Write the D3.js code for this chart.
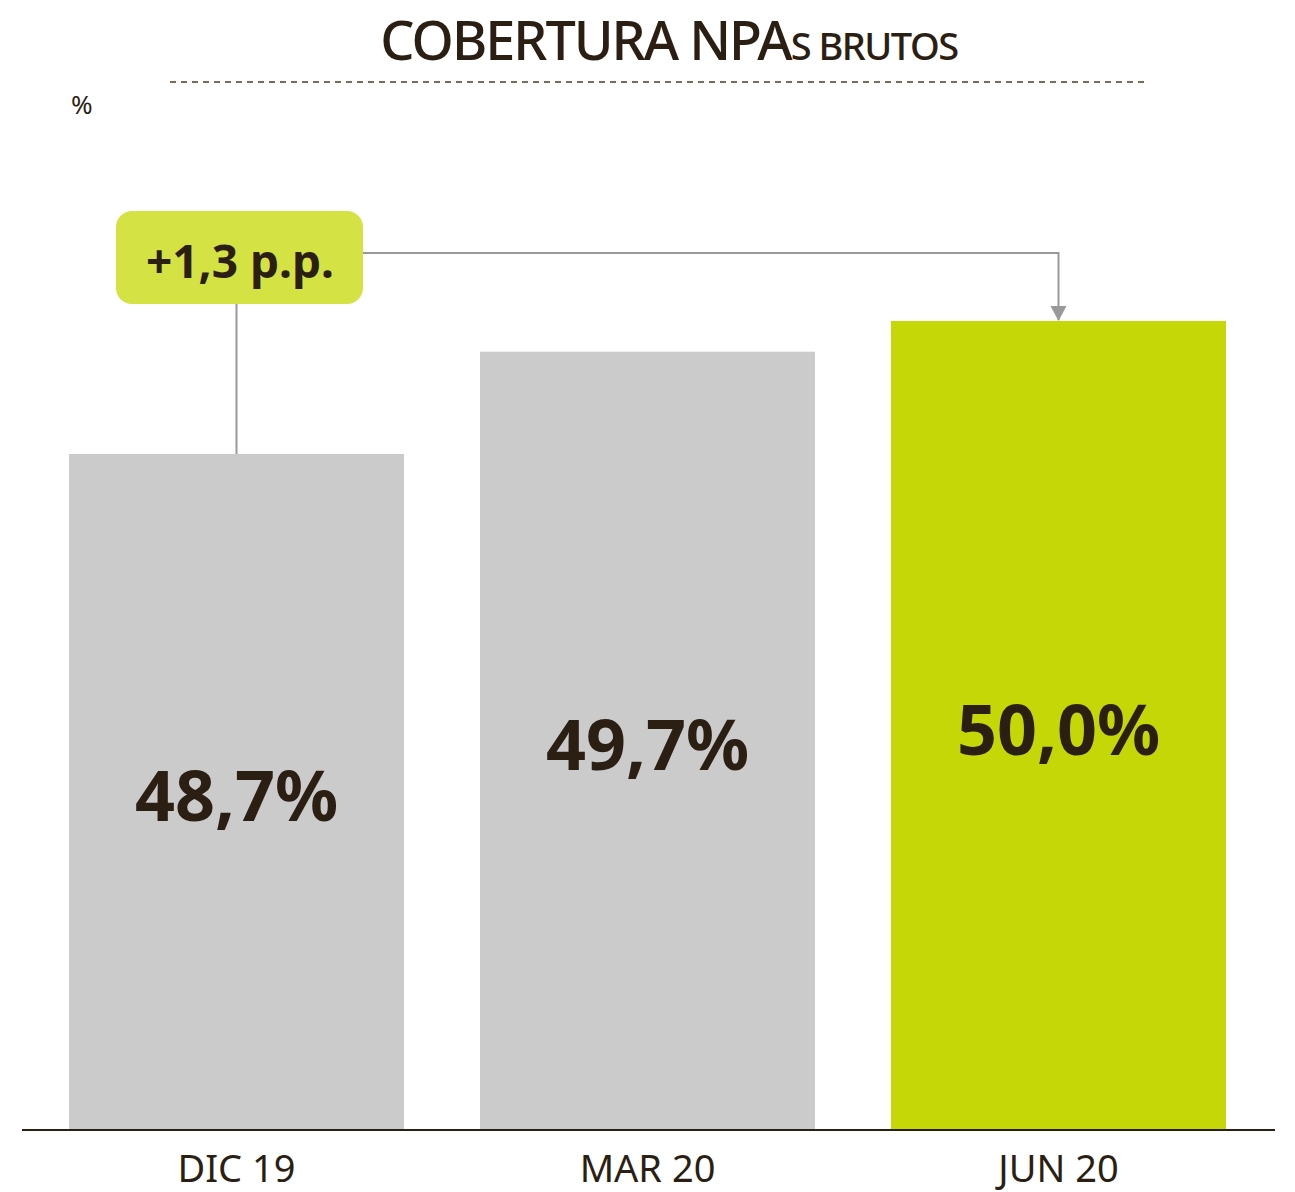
<!DOCTYPE html>
<html>
<head>
<meta charset="utf-8">
<script src="https://cdn.jsdelivr.net/npm/d3@7"></script>
<style>
  body { margin: 0; background: #fff; }
  svg text { font-family: "Noto Sans", "Open Sans", sans-serif; fill: #2b1e12; }
</style>
</head>
<body>
<div id="chart"></div>
<script>
const categories = ['DIC 19', 'MAR 20', 'JUN 20'];
const values = [48.7, 49.7, 50.0];
const valueLabels = ['48,7%', '49,7%', '50,0%'];
const barColors = ['#cbcbcb', '#cbcbcb', '#c5d706'];
const deltaLabel = '+1,3 p.p.';

(function(){
    const width = 1295, height = 1192;
    const baseY = 1129;
    const svg = d3.select('#chart').append('svg').attr('width', width).attr('height', height);

    const x = d3.scaleBand().domain(categories).range([31, 1264]).paddingInner(0.185).paddingOuter(0.0925);
    // truncated value axis, as in the original
    const y = d3.scaleLinear().domain([42.1, 50.0]).range([baseY, 321]);

    // title
    const title = svg.append('text').attr('x', 669).attr('y', 60).attr('text-anchor', 'middle');
    title.append('tspan').attr('font-size', 54).attr('font-weight', 500).attr('letter-spacing', -2).text('COBERTURA NPA');
    title.append('tspan').attr('font-size', 38).attr('font-weight', 500).attr('letter-spacing', -1.5).text('S BRUTOS');

    svg.append('line').attr('x1', 170).attr('x2', 1146).attr('y1', 82).attr('y2', 82)
        .attr('stroke', '#7d6c5a').attr('stroke-width', 2).attr('stroke-dasharray', '6,5');

    svg.append('text').attr('x', 71).attr('y', 114).attr('font-size', 26).text('%');

    // bars
    svg.selectAll('rect.bar').data(values).join('rect').attr('class', 'bar')
        .attr('x', (d, i) => x(categories[i]))
        .attr('width', x.bandwidth())
        .attr('y', d => y(d))
        .attr('height', d => baseY - y(d))
        .attr('fill', (d, i) => barColors[i]);

    svg.selectAll('text.val').data(values).join('text').attr('class', 'val')
        .attr('x', (d, i) => x(categories[i]) + x.bandwidth() / 2)
        .attr('y', d => (y(d) + baseY) / 2 + 5)
        .attr('dy', '0.35em')
        .attr('text-anchor', 'middle')
        .attr('font-size', 70).attr('font-weight', 700)
        .text((d, i) => valueLabels[i]);

    // axis line + category labels
    svg.append('line').attr('x1', 22).attr('x2', 1275).attr('y1', baseY + 1).attr('y2', baseY + 1)
        .attr('stroke', '#2b1e12').attr('stroke-width', 2);
    svg.selectAll('text.cat').data(categories).join('text').attr('class', 'cat')
        .attr('x', d => x(d) + x.bandwidth() / 2)
        .attr('y', 1182)
        .attr('text-anchor', 'middle')
        .attr('font-size', 38)
        .text(d => d);

    // change connector: from first bar to last bar
    const cx0 = x(categories[0]) + x.bandwidth() / 2;
    const cx1 = x(categories[2]) + x.bandwidth() / 2;
    const lineY = 253;
    svg.append('path')
        .attr('d', `M${cx0},${y(values[0])}V${lineY}H${cx1}V${y(values[2]) - 1}`)
        .attr('fill', 'none').attr('stroke', '#999').attr('stroke-width', 2);
    svg.append('path')
        .attr('d', `M${cx1 - 8},${y(values[2]) - 15}L${cx1 + 8},${y(values[2]) - 15}L${cx1},${y(values[2])}Z`)
        .attr('fill', '#999');

    svg.append('rect').attr('x', 116).attr('y', 211).attr('width', 247).attr('height', 93)
        .attr('rx', 16).attr('fill', '#d5e243');
    svg.append('text').attr('x', 240).attr('y', 262).attr('dy', '0.35em').attr('text-anchor', 'middle')
        .attr('font-size', 46).attr('font-weight', 700).text(deltaLabel);
})();
</script>
</body>
</html>
